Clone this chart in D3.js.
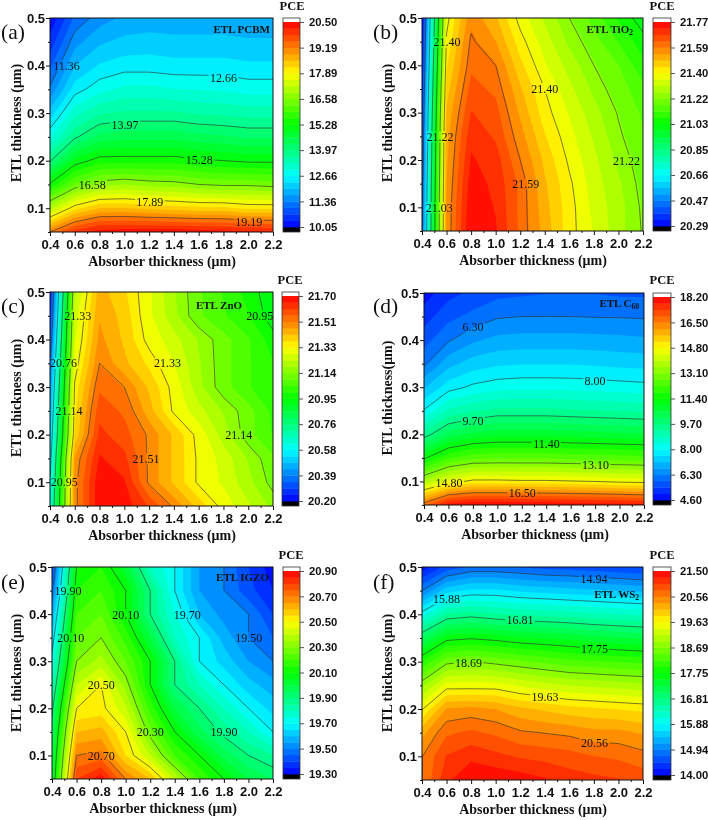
<!DOCTYPE html>
<html><head><meta charset="utf-8">
<style>html,body{margin:0;padding:0;background:#fff}svg{display:block;font-family:"Liberation Serif","Times New Roman",serif;filter:blur(0.45px)}</style>
<script src="https://cdn.jsdelivr.net/npm/d3@7"></script></head><body>
<script>
// Grid axes
const absorber = [0.4,0.6,0.8,1.0,1.2,1.4,1.6,1.8,2.0,2.2];
const etl = [0.05,0.10,0.15,0.20,0.25,0.30,0.35,0.40,0.45,0.50];
const xTicks = [0.4,0.6,0.8,1.0,1.2,1.4,1.6,1.8,2.0,2.2];
const xMinor = [0.5,0.7,0.9,1.1,1.3,1.5,1.7,1.9,2.1];
const yTicks = [0.1,0.2,0.3,0.4,0.5];
const yMinor = [0.05,0.15,0.25,0.35,0.45];

// PCE values: one row per absorber thickness, one entry per ETL thickness
const pceA = [
[19.2,17.12,15.35,13.93,12.95,12.15,11.43,10.95,10.5,10.1],
[20.0,18.1,16.3,15.05,13.9,13.2,12.5,12.0,11.55,11.1],
[20.35,18.55,16.78,15.45,14.4,13.6,12.87,12.37,11.95,11.53],
[20.4,18.55,16.9,15.45,14.5,13.7,13.08,12.5,12.1,11.75],
[20.4,18.45,16.77,15.45,14.5,13.7,13.08,12.5,12.15,11.8],
[20.4,18.38,16.73,15.45,14.5,13.7,13.0,12.45,12.1,11.8],
[20.35,18.3,16.58,15.35,14.4,13.6,12.97,12.45,12.1,11.8],
[20.3,18.3,16.5,15.28,14.35,13.55,12.95,12.45,12.1,11.8],
[20.25,18.15,16.5,15.2,14.25,13.5,12.85,12.4,12.05,11.8],
[20.2,18.15,16.42,15.2,14.25,13.5,12.85,12.4,12.05,11.8]];
const pceB = [
[20.45,20.44,20.43,20.41,20.40,20.38,20.36,20.34,20.32,20.30],
[21.55,21.55,21.54,21.53,21.52,21.50,21.47,21.44,21.41,21.38],
[21.77,21.76,21.75,21.73,21.71,21.68,21.65,21.62,21.60,21.57],
[21.73,21.72,21.71,21.70,21.67,21.65,21.62,21.59,21.54,21.50],
[21.62,21.62,21.62,21.59,21.56,21.53,21.50,21.46,21.42,21.38],
[21.52,21.51,21.50,21.48,21.45,21.42,21.40,21.36,21.33,21.30],
[21.42,21.42,21.41,21.39,21.37,21.35,21.32,21.29,21.25,21.22],
[21.35,21.34,21.33,21.32,21.30,21.28,21.25,21.22,21.19,21.15],
[21.28,21.28,21.27,21.25,21.23,21.215,21.19,21.17,21.12,21.07],
[21.215,21.21,21.20,21.19,21.175,21.16,21.14,21.09,21.05,21.00]];
const pceC = [
[20.62,20.58,20.54,20.50,20.46,20.42,20.38,20.33,20.28,20.24],
[21.49,21.49,21.47,21.38,21.36,21.34,21.30,21.27,21.25,21.22],
[21.69,21.69,21.66,21.62,21.59,21.55,21.51,21.48,21.46,21.44],
[21.68,21.66,21.62,21.58,21.55,21.51,21.43,21.41,21.40,21.38],
[21.60,21.50,21.50,21.50,21.44,21.41,21.36,21.31,21.29,21.29],
[21.50,21.41,21.41,21.41,21.32,21.31,21.28,21.25,21.20,21.19],
[21.40,21.32,21.32,21.31,21.25,21.20,21.19,21.18,21.10,21.10],
[21.31,21.27,21.26,21.21,21.18,21.11,21.11,21.11,21.05,21.04],
[21.24,21.20,21.18,21.11,21.11,21.05,21.05,21.05,21.00,20.98],
[21.17,21.12,21.10,21.04,21.03,21.00,21.00,20.97,20.92,20.91]];
const pceD = [
[16.8,13.7,11.3,9.45,8.05,7.1,6.2,5.7,5.25,4.8],
[18.0,14.55,12.2,10.3,8.95,7.8,7.0,6.25,5.75,5.3],
[18.2,14.95,12.55,10.65,9.2,8.1,7.35,6.65,6.0,5.55],
[18.2,14.95,12.6,10.8,9.4,8.25,7.5,6.85,6.25,5.75],
[18.2,14.9,12.6,10.8,9.4,8.3,7.55,6.9,6.3,5.8],
[18.15,14.9,12.6,10.8,9.4,8.3,7.55,6.9,6.3,5.85],
[18.1,14.85,12.55,10.75,9.35,8.28,7.55,6.9,6.3,5.85],
[18.05,14.8,12.5,10.7,9.3,8.25,7.5,6.88,6.28,5.85],
[18.0,14.7,12.45,10.65,9.25,8.2,7.45,6.85,6.27,5.8],
[17.9,14.65,12.4,10.6,9.2,8.15,7.42,6.8,6.25,5.8]];
const pceE = [
[20.0,19.97,19.93,19.88,19.8,19.73,19.65,19.57,19.47,19.4],
[20.8,20.7,20.6,20.5,20.4,20.3,20.25,20.2,20.15,20.1],
[20.88,20.72,20.62,20.52,20.5,20.37,20.3,20.25,20.2,20.15],
[20.7,20.55,20.5,20.41,20.33,20.25,20.18,20.1,20.1,20.02],
[20.6,20.4,20.27,20.18,20.1,20.1,20.0,19.9,19.9,19.8],
[20.4,20.2,20.1,20.0,19.9,19.9,19.8,19.75,19.7,19.7],
[20.2,20.1,19.97,19.9,19.8,19.7,19.7,19.6,19.55,19.55],
[20.1,19.98,19.88,19.8,19.7,19.63,19.58,19.53,19.5,19.5],
[20.0,19.9,19.8,19.7,19.62,19.55,19.5,19.5,19.42,19.4],
[19.95,19.85,19.7,19.63,19.57,19.5,19.45,19.4,19.35,19.32]];
const pceF = [
[20.55,20.55,20.25,19.6,18.85,18.0,17.05,16.0,14.93,14.1],
[21.2,21.05,20.75,20.35,19.5,18.6,17.65,16.6,15.55,14.55],
[21.5,21.2,20.85,20.4,19.5,18.7,17.72,16.7,15.7,14.75],
[21.45,21.1,20.75,20.33,19.5,18.6,17.65,16.6,15.7,14.75],
[21.4,21.0,20.6,20.15,19.35,18.5,17.55,16.55,15.6,14.7],
[21.3,20.95,20.55,20.05,19.25,18.4,17.5,16.5,15.55,14.62],
[21.15,20.9,20.5,19.95,19.15,18.3,17.45,16.45,15.5,14.6],
[21.1,20.8,20.4,19.9,19.1,18.25,17.35,16.4,15.45,14.55],
[21.05,20.75,20.4,19.85,19.05,18.2,17.3,16.35,15.4,14.5],
[20.95,20.65,20.3,19.8,19.0,18.15,17.25,16.3,15.35,14.45]];

// Colour-scale tick labels (bottom to top)
const scaleA = ["10.05","11.36","12.66","13.97","15.28","16.58","17.89","19.19","20.50"];
const scaleB = ["20.29","20.47","20.66","20.85","21.03","21.22","21.40","21.59","21.77"];
const scaleC = ["20.20","20.39","20.58","20.76","20.95","21.14","21.33","21.51","21.70"];
const scaleD = ["4.60","6.30","8.00","9.70","11.40","13.10","14.80","16.50","18.20"];
const scaleE = ["19.30","19.50","19.70","19.90","20.10","20.30","20.50","20.70","20.90"];
const scaleF = ["14.00","14.94","15.88","16.81","17.75","18.69","19.63","20.56","21.50"];

// Contour labels: text, absorber thickness, ETL thickness
const labelsA = [["11.36",.534,.40],["12.66",1.80,.374],["13.97",1.005,.276],["15.28",1.604,.201],["16.58",.741,.15],["17.89",1.206,.114],["19.19",2.005,.072]];
const labelsB = [["21.40",.603,.449],["21.40",1.40,.351],["21.22",.546,.249],["21.22",2.065,.199],["21.59",1.245,.15],["21.03",.541,.099]];
const labelsC = [["21.33",.624,.45],["20.76",.508,.35],["21.33",1.349,.35],["21.14",.554,.25],["21.14",1.923,.2],["21.51",1.174,.149],["20.95",.516,.10],["20.95",2.093,.45]];
const labelsD = [["6.30",.80,.428],["8.00",1.80,.314],["9.70",.80,.229],["11.40",1.403,.18],["13.10",1.804,.135],["14.80",.605,.097],["16.50",1.204,.075]];
const labelsE = [["19.90",.53,.45],["20.10",1.0,.399],["19.70",1.502,.399],["20.10",.552,.349],["19.50",2.002,.35],["20.50",.802,.25],["20.30",1.201,.15],["19.90",1.801,.15],["20.70",.802,.1]];
const labelsF = [["14.94",1.80,.475],["15.88",.60,.432],["16.81",1.199,.388],["17.75",1.805,.326],["18.69",.779,.298],["19.63",1.402,.226],["20.56",1.805,.128]];

// Layout of each panel
const panels = [
 {id:"a",values:pceA,scale:scaleA,labels:labelsA,l:50,r:273,t:18,b:232,cb:[283,300],letter:[1,33],pce:[292,10],note:["ETL PCBM",null],noteAt:[270,29,"end"],ylab:"ETL thickness (\u03bcm)",ylabX:16,xlabCx:162,ylabCy:123},
 {id:"b",values:pceB,scale:scaleB,labels:labelsB,l:422,r:643,t:18,b:231,cb:[653,671],letter:[373,33],pce:[662,10],note:["ETL TiO","2"],noteAt:[633,29,"end"],ylab:"ETL thickness (\u03bcm)",ylabX:387,xlabCx:533,ylabCy:123},
 {id:"c",values:pceC,scale:scaleC,labels:labelsC,l:50,r:273,t:292,b:506,cb:[282,299],letter:[1,307],pce:[290,284],note:["ETL ZnO",null],noteAt:[219,305,"middle"],ylab:"ETL thickness (\u03bcm)",ylabX:16,xlabCx:162,ylabCy:398},
 {id:"d",values:pceD,scale:scaleD,labels:labelsD,l:424,r:644,t:293,b:505,cb:[653,671],letter:[373,307],pce:[662,284],note:["ETL C","60"],noteAt:[639,303,"end"],ylab:"ETL thickness(\u03bcm)",ylabX:387,xlabCx:535,ylabCy:398},
 {id:"e",values:pceE,scale:scaleE,labels:labelsE,l:52,r:273,t:567,b:779,cb:[283,300],letter:[1,583],pce:[291,559],note:["ETL IGZO",null],noteAt:[269,577,"end"],ylab:"ETL thickness (\u03bcm)",ylabX:16,xlabCx:163,ylabCy:673},
 {id:"f",values:pceF,scale:scaleF,labels:labelsF,l:422,r:643,t:567,b:780,cb:[653,671],letter:[373,583],pce:[662,559],note:["ETL WS","2"],noteAt:[639,594,"end"],ylab:"ETL thickness (\u03bcm)",ylabX:387,xlabCx:533,ylabCy:673}
];

const rainbow = d3.scaleLinear().domain([0,.25,.5,.75,1]).range(["#0000ff","#00ffff","#00ff00","#ffff00","#ff0000"]).interpolate(d3.interpolateRgb);
const BANDS = 32;

const svg = d3.select("body").append("svg").attr("width",708).attr("height",820).attr("viewBox","0 0 708 820");

function drawPanel(p){
  const g = svg.append("g");
  const x = d3.scaleLinear().domain([0.4,2.2]).range([p.l,p.r]);
  const y = d3.scaleLinear().domain([0.05,0.5]).range([p.b,p.t]);
  const nx = absorber.length, ny = etl.length;
  const dx = absorber[1]-absorber[0], dy = etl[1]-etl[0];
  const grid = [];
  etl.forEach((_,j)=>absorber.forEach((_,i)=>grid.push(p.values[i][j])));
  const path = d3.geoPath(d3.geoTransform({point(a,b){
    this.stream.point(x(absorber[0]+(a-.5)*dx), y(etl[0]+(b-.5)*dy));
  }}));
  const lo = +p.scale[0], hi = +p.scale[p.scale.length-1];
  const band = i=>rainbow((i+.5)/BANDS);
  const thresholds = d3.range(BANDS).map(i=>lo+i*(hi-lo)/BANDS);
  const levels = p.scale.slice(1,-1).map(Number);
  const gen = d3.contours().size([nx,ny]).smooth(true);

  const clipId = "clip-"+p.id, maskId = "mask-"+p.id;
  const defs = g.append("defs");
  defs.append("clipPath").attr("id",clipId).append("rect").attr("x",p.l).attr("y",p.t).attr("width",p.r-p.l).attr("height",p.b-p.t);
  const mask = defs.append("mask").attr("id",maskId).attr("maskUnits","userSpaceOnUse").attr("x",p.l-5).attr("y",p.t-5).attr("width",p.r-p.l+10).attr("height",p.b-p.t+10);
  mask.append("rect").attr("x",p.l-5).attr("y",p.t-5).attr("width",p.r-p.l+10).attr("height",p.b-p.t+10).attr("fill","#fff");
  mask.selectAll("rect.hole").data(p.labels).join("rect").attr("class","hole")
    .attr("x",d=>x(d[1])-d[0].length*2.95).attr("y",d=>y(d[2])-5.5).attr("width",d=>d[0].length*5.9).attr("height",11).attr("fill","#000");

  const plot = g.append("g").attr("clip-path",`url(#${clipId})`);
  plot.append("rect").attr("x",p.l).attr("y",p.t).attr("width",p.r-p.l).attr("height",p.b-p.t).attr("fill",band(0));
  plot.selectAll("path.band").data(gen.thresholds(thresholds)(grid)).join("path").attr("class","band")
    .attr("d",path).attr("fill",(d,i)=>band(i));
  plot.append("g").attr("mask",`url(#${maskId})`).selectAll("path").data(gen.thresholds(levels)(grid)).join("path")
    .attr("d",path).attr("fill","none").attr("stroke","#333").attr("stroke-width",.8).attr("stroke-opacity",.8);
  g.selectAll("text.cl").data(p.labels).join("text").attr("class","cl")
    .attr("x",d=>x(d[1])).attr("y",d=>y(d[2])).attr("dy","0.34em").attr("text-anchor","middle")
    .attr("font-size",12).attr("fill","#111").text(d=>d[0]);

  g.append("rect").attr("x",p.l).attr("y",p.t).attr("width",p.r-p.l).attr("height",p.b-p.t).attr("fill","none").attr("stroke","#111").attr("stroke-width",1);

  // axes
  const styleAxis = a=>{a.select(".domain").remove();a.selectAll("line").attr("stroke","#111");
    a.selectAll("text").attr("font-family","inherit").attr("font-size",13).attr("font-weight","bold").attr("fill","#111");};
  g.append("g").attr("transform",`translate(0,${p.b})`).call(d3.axisBottom(x).tickValues(xTicks).tickSize(4).tickPadding(4).tickFormat(d3.format(".1f"))).call(styleAxis);
  g.append("g").attr("transform",`translate(0,${p.b})`).call(d3.axisBottom(x).tickValues(xMinor).tickSize(2).tickFormat("")).call(styleAxis);
  g.append("g").attr("transform",`translate(${p.l},0)`).call(d3.axisLeft(y).tickValues(yTicks).tickSize(4).tickPadding(1).tickFormat(d3.format(".1f"))).call(styleAxis);
  g.append("g").attr("transform",`translate(${p.l},0)`).call(d3.axisLeft(y).tickValues(yMinor).tickSize(2).tickFormat("")).call(styleAxis);

  g.append("text").attr("x",p.xlabCx).attr("y",p.b+34).attr("text-anchor","middle").attr("font-size",14).attr("font-weight","bold").attr("fill","#111").text("Absorber thickness (\u03bcm)");
  g.append("text").attr("transform",`translate(${p.ylabX+5},${p.ylabCy}) rotate(-90)`).attr("text-anchor","middle").attr("font-size",14).attr("font-weight","bold").attr("fill","#111").text(p.ylab);
  g.append("text").attr("x",p.letter[0]).attr("y",p.letter[1]+6).attr("font-size",21.5).attr("fill","#111").text("("+p.id+")");

  const note = g.append("text").attr("x",p.noteAt[0]).attr("y",p.noteAt[1]+3.5).attr("text-anchor",p.noteAt[2]).attr("font-size",11).attr("font-weight","bold").attr("fill","#111");
  note.append("tspan").text(p.note[0]);
  if(p.note[1]) note.append("tspan").attr("font-size",7.5).attr("dy",2.5).text(p.note[1]);

  // colour scale
  const [c0,c1] = p.cb;
  const cy = d3.scaleLinear().domain([lo,hi]).range([p.b-5,p.t+4]);
  g.append("rect").attr("x",c0).attr("y",p.t).attr("width",c1-c0).attr("height",4).attr("fill","#fff");
  g.append("rect").attr("x",c0).attr("y",p.b-5).attr("width",c1-c0).attr("height",5).attr("fill","#000");
  g.selectAll("rect.cb").data(d3.range(BANDS)).join("rect").attr("class","cb")
    .attr("x",c0).attr("width",c1-c0)
    .attr("y",i=>cy(thresholds[i]+(hi-lo)/BANDS)).attr("height",i=>cy(thresholds[i])-cy(thresholds[i]+(hi-lo)/BANDS)+.4)
    .attr("fill",i=>band(i));
  g.append("rect").attr("x",c0).attr("y",p.t).attr("width",c1-c0).attr("height",p.b-p.t).attr("fill","none").attr("stroke","#333").attr("stroke-width",.8);
  const tickVals = p.scale.map((_,i)=>lo+i*(hi-lo)/8);
  const cax = g.append("g").attr("transform",`translate(${c1},0)`)
    .call(d3.axisRight(cy).tickValues(tickVals).tickSize(4).tickPadding(5).tickFormat((d,i)=>p.scale[i]));
  cax.select(".domain").remove();
  cax.selectAll("line").attr("stroke","#555");
  cax.selectAll("text").attr("font-family","inherit").attr("font-size",11.3).attr("font-weight","bold").attr("fill","#111");
  g.append("text").attr("x",p.pce[0]).attr("y",p.pce[1]).attr("text-anchor","middle").attr("font-size",12.5).attr("font-weight","bold").attr("fill","#111").text("PCE");
}
panels.forEach(drawPanel);
</script></body></html>
